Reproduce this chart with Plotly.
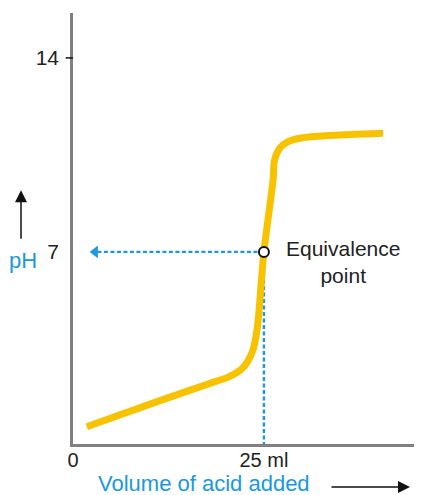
import plotly.graph_objects as go

# Titration curve data (volume of acid in ml, pH)
volume = [1.8, 10.0, 18.6, 20.4, 22.1, 22.9, 23.6, 24.1, 25.0, 26.2, 26.4, 27.1, 28.1, 30.0, 33.0, 40.6]
ph = [0.69, 1.5, 2.32, 2.49, 2.78, 3.06, 3.5, 4.19, 7.0, 9.6, 10.32, 10.75, 10.97, 11.12, 11.19, 11.28]

eq_volume = 25
eq_ph = 7
y_tick_vals = [7, 14]
y_tick_text = ["7", "14"]
x_tick_vals = [0, 25]
x_tick_text = ["0", "25 ml"]

BLUE = "#1B98DE"
ORANGE = "#F7C300"
FONT = "Liberation Sans, Arial, sans-serif"

fig = go.Figure()

# dashed guides
fig.add_trace(go.Scatter(x=[eq_volume, eq_volume], y=[0, eq_ph], mode="lines",
                         line=dict(color=BLUE, width=2.4, dash="4px,2.5px"), hoverinfo="skip"))
fig.add_trace(go.Scatter(x=[eq_volume, 3.2], y=[eq_ph, eq_ph], mode="lines",
                         line=dict(color=BLUE, width=2.4, dash="4px,2.5px"), hoverinfo="skip"))
fig.add_trace(go.Scatter(x=[2.9], y=[eq_ph], mode="markers",
                         marker=dict(symbol="triangle-left", size=11, color=BLUE), hoverinfo="skip"))

# curve
fig.add_trace(go.Scatter(x=volume, y=ph, mode="lines",
                         line=dict(color=ORANGE, width=7, shape="spline", smoothing=1.0)))

# equivalence point marker
fig.add_trace(go.Scatter(x=[eq_volume], y=[eq_ph], mode="markers",
                         marker=dict(symbol="circle", size=10, color="white",
                                     line=dict(color="#111111", width=2))))

fig.add_annotation(x=35.3, y=6.62, text="Equivalence<br>point", showarrow=False,
                   xanchor="center", yanchor="middle",
                   font=dict(family=FONT, size=21, color="#222222"), align="center")

# y tick mark at 14
fig.add_shape(type="line", xref="paper", yref="y", x0=-0.021, x1=0, y0=14, y1=14,
              line=dict(color="#111111", width=1.5))

# pH label and arrow
fig.add_annotation(xref="paper", yref="paper", x=-0.144, y=0.4246, text="pH",
                   xanchor="center", yanchor="middle",
                   showarrow=False, font=dict(family=FONT, size=22, color=BLUE))
fig.add_annotation(xref="paper", yref="paper", x=-0.149, y=0.589, ax=0, ay=50,
                   text="", showarrow=True, arrowhead=2, arrowsize=1.6, arrowwidth=1.5,
                   arrowcolor="#111111")

# x title and arrow
fig.add_annotation(xref="paper", yref="paper", x=0.375, y=-0.092, text="Volume of acid added",
                   xanchor="center", yanchor="middle",
                   showarrow=False, font=dict(family=FONT, size=22, color=BLUE))
fig.add_annotation(xref="paper", yref="paper", x=0.9656, y=-0.1, ax=-80, ay=0,
                   text="", showarrow=True, arrowhead=2, arrowsize=1.6, arrowwidth=1.5,
                   arrowcolor="#111111")

fig.update_layout(
    width=414, height=487,
    margin=dict(l=65, r=0, t=5, b=51),
    paper_bgcolor="white", plot_bgcolor="white",
    showlegend=False,
    font=dict(family=FONT, size=21, color="#222222"),
    xaxis=dict(range=[0, 45.7], showgrid=False, zeroline=False, showline=True,
               linecolor="#808080", linewidth=2.5, tickvals=x_tick_vals, ticktext=x_tick_text,
               ticks="", tickfont=dict(size=20, color="#222222"), ticklabelstandoff=-4),
    yaxis=dict(range=[0.07, 15.62], showgrid=False, zeroline=False, showline=True,
               linecolor="#808080", linewidth=2.5, tickvals=y_tick_vals, ticktext=y_tick_text,
               ticks="", tickfont=dict(size=21, color="#222222"), ticklabelstandoff=7),
)

fig.write_html("out.html")
